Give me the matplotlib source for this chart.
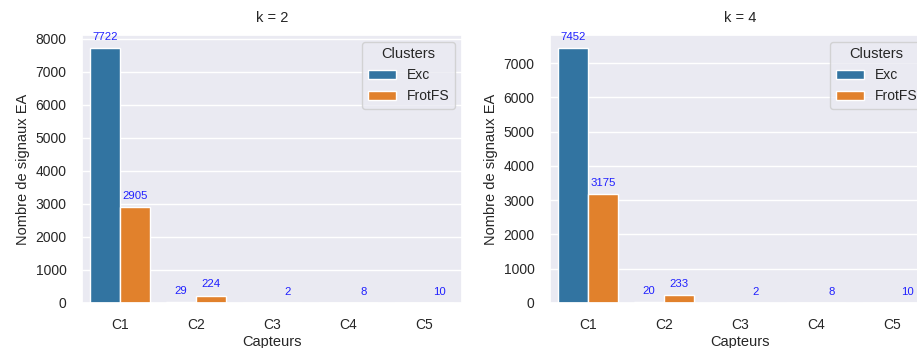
import matplotlib
matplotlib.use("Agg")
import matplotlib.pyplot as plt
import seaborn as sns
import numpy as np

sns.set_theme(style="darkgrid")
plt.rcParams['font.family'] = ['Liberation Sans', 'DejaVu Sans']

categories = ["C1", "C2", "C3", "C4", "C5"]
clusters = ["Exc", "FrotFS"]
titles = ["k = 2", "k = 4"]
exc_k2 = [7722, 29, 0, 0, 0]
frot_k2 = [2905, 224, 2, 8, 10]
exc_k4 = [7452, 20, 0, 0, 0]
frot_k4 = [3175, 233, 2, 8, 10]
panels = [(exc_k2, frot_k2), (exc_k4, frot_k4)]

colors = ["#3274a1", "#e1812c"]

W, H = 917, 348
fig = plt.figure(figsize=(W / 100, H / 100), dpi=100)
lefts = [82, 550]
axw, axb, axh = 380, 45, 268

x = np.arange(len(categories))
bw = 0.4
for i, (exc, frot) in enumerate(panels):
    ax = fig.add_axes([lefts[i] / W, axb / H, axw / W, axh / H])
    for j, (vals, name) in enumerate(zip((exc, frot), clusters)):
        pos = x + (j - 0.5) * bw
        ax.bar(pos, vals, width=bw, color=colors[j], edgecolor="white",
               linewidth=1, label=name)
        for p, v in zip(pos, vals):
            if v > 0:
                ax.annotate(str(v), (p, v), xytext=(0, 8), textcoords="offset points",
                            ha="center", va="center", color="#2020ff", fontsize=8.2)
    ax.set_xlim(-0.5, len(categories) - 0.5)
    ax.set_ylim(0, max(max(exc), max(frot)) * 1.05)
    ax.set_xticks(x)
    ax.set_xticklabels(categories)
    ax.grid(False, axis="x")
    ax.tick_params(labelsize=10, pad=5)
    ax.set_xlabel("Capteurs", fontsize=10.5, labelpad=2)
    ax.set_ylabel("Nombre de signaux EA", fontsize=10.5)
    ax.set_title(titles[i], fontsize=10.5, pad=9)
    ax.legend(title="Clusters", loc="upper right", fontsize=10, title_fontsize=10.5)

fig.savefig("out.png", dpi=100)
